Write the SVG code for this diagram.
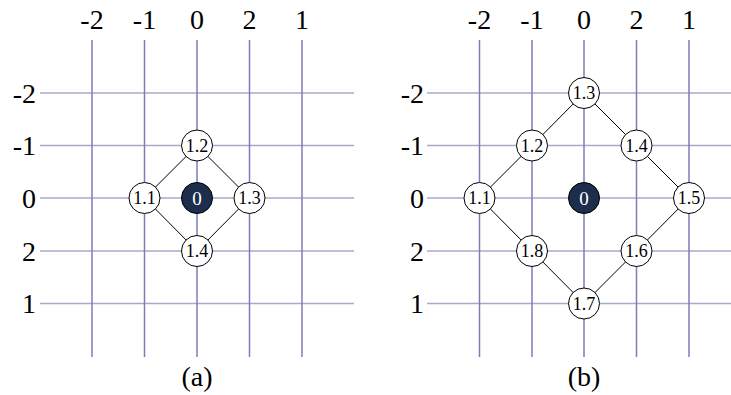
<svg xmlns="http://www.w3.org/2000/svg" width="731" height="395" viewBox="0 0 731 395">
<style>
.h{stroke:#a8a8c8;stroke-width:1.5}
.v{stroke:#7c7cb6;stroke-width:1.5}
.e{stroke:#000;stroke-width:1}
.n circle{fill:#fff;stroke:#000;stroke-width:1}
.d circle{fill:#1c2e4b;stroke:#000;stroke-width:1}
</style>
<rect width="731" height="395" fill="#fff"/>
<g id="grid-a">
<line class="h" x1="40" y1="93" x2="354" y2="93"/>
<line class="h" x1="40" y1="145.5" x2="354" y2="145.5"/>
<line class="h" x1="40" y1="198" x2="354" y2="198"/>
<line class="h" x1="40" y1="251" x2="354" y2="251"/>
<line class="h" x1="40" y1="303.5" x2="354" y2="303.5"/>
<line class="v" x1="92" y1="40" x2="92" y2="357"/>
<line class="v" x1="144.5" y1="40" x2="144.5" y2="357"/>
<line class="v" x1="197" y1="40" x2="197" y2="357"/>
<line class="v" x1="249.5" y1="40" x2="249.5" y2="357"/>
<line class="v" x1="302" y1="40" x2="302" y2="357"/>
</g>
<g id="labels-a" font-family="Liberation Serif, serif" font-size="28" fill="#000">
<text x="92" y="29" text-anchor="middle">-2</text>
<text x="144.5" y="29" text-anchor="middle">-1</text>
<text x="197" y="29" text-anchor="middle">0</text>
<text x="249.5" y="29" text-anchor="middle">2</text>
<text x="302" y="29" text-anchor="middle">1</text>
<text x="36" y="102.5" text-anchor="end">-2</text>
<text x="36" y="155" text-anchor="end">-1</text>
<text x="36" y="207.5" text-anchor="end">0</text>
<text x="36" y="260.5" text-anchor="end">2</text>
<text x="36" y="313" text-anchor="end">1</text>
<text x="197" y="386" text-anchor="middle">(a)</text>
</g>
<g id="grid-b">
<line class="h" x1="427" y1="93" x2="741" y2="93"/>
<line class="h" x1="427" y1="145.5" x2="741" y2="145.5"/>
<line class="h" x1="427" y1="198" x2="741" y2="198"/>
<line class="h" x1="427" y1="251" x2="741" y2="251"/>
<line class="h" x1="427" y1="303.5" x2="741" y2="303.5"/>
<line class="v" x1="479.5" y1="40" x2="479.5" y2="357"/>
<line class="v" x1="532" y1="40" x2="532" y2="357"/>
<line class="v" x1="584" y1="40" x2="584" y2="357"/>
<line class="v" x1="636.5" y1="40" x2="636.5" y2="357"/>
<line class="v" x1="689" y1="40" x2="689" y2="357"/>
</g>
<g id="labels-b" font-family="Liberation Serif, serif" font-size="28" fill="#000">
<text x="479.5" y="29" text-anchor="middle">-2</text>
<text x="532" y="29" text-anchor="middle">-1</text>
<text x="584" y="29" text-anchor="middle">0</text>
<text x="636.5" y="29" text-anchor="middle">2</text>
<text x="689" y="29" text-anchor="middle">1</text>
<text x="424" y="102.5" text-anchor="end">-2</text>
<text x="424" y="155" text-anchor="end">-1</text>
<text x="424" y="207.5" text-anchor="end">0</text>
<text x="424" y="260.5" text-anchor="end">2</text>
<text x="424" y="313" text-anchor="end">1</text>
<text x="584" y="386" text-anchor="middle">(b)</text>
</g>
<g id="connectors">
<line class="e" x1="197" y1="145.5" x2="144.5" y2="198"/>
<line class="e" x1="197" y1="145.5" x2="249.5" y2="198"/>
<line class="e" x1="144.5" y1="198" x2="197" y2="251"/>
<line class="e" x1="249.5" y1="198" x2="197" y2="251"/>
<line class="e" x1="584" y1="93" x2="532" y2="145.5"/>
<line class="e" x1="532" y1="145.5" x2="479.5" y2="198"/>
<line class="e" x1="584" y1="93" x2="636.5" y2="145.5"/>
<line class="e" x1="636.5" y1="145.5" x2="689" y2="198"/>
<line class="e" x1="479.5" y1="198" x2="532" y2="251"/>
<line class="e" x1="532" y1="251" x2="584" y2="303.5"/>
<line class="e" x1="689" y1="198" x2="636.5" y2="251"/>
<line class="e" x1="636.5" y1="251" x2="584" y2="303.5"/>
</g>
<g font-family="Liberation Serif, serif" font-size="18" text-anchor="middle">
<g id="a-1.2" class="n"><circle cx="197" cy="145.5" r="15.5"/><text x="197" y="151.5">1.2</text></g>
<g id="a-1.1" class="n"><circle cx="144.5" cy="198" r="15.5"/><text x="144.5" y="204">1.1</text></g>
<g id="a-0" class="d"><circle cx="197" cy="198" r="15.5"/><text x="197" y="204.5" fill="#fff" font-size="19">0</text></g>
<g id="a-1.3" class="n"><circle cx="249.5" cy="198" r="15.5"/><text x="249.5" y="204">1.3</text></g>
<g id="a-1.4" class="n"><circle cx="197" cy="251" r="15.5"/><text x="197" y="257">1.4</text></g>
<g id="b-1.3" class="n"><circle cx="584" cy="93" r="15.5"/><text x="584" y="99">1.3</text></g>
<g id="b-1.2" class="n"><circle cx="532" cy="145.5" r="15.5"/><text x="532" y="151.5">1.2</text></g>
<g id="b-1.4" class="n"><circle cx="636.5" cy="145.5" r="15.5"/><text x="636.5" y="151.5">1.4</text></g>
<g id="b-1.1" class="n"><circle cx="479.5" cy="198" r="15.5"/><text x="479.5" y="204">1.1</text></g>
<g id="b-0" class="d"><circle cx="584" cy="198" r="15.5"/><text x="584" y="204.5" fill="#fff" font-size="19">0</text></g>
<g id="b-1.5" class="n"><circle cx="689" cy="198" r="15.5"/><text x="689" y="204">1.5</text></g>
<g id="b-1.8" class="n"><circle cx="532" cy="251" r="15.5"/><text x="532" y="257">1.8</text></g>
<g id="b-1.6" class="n"><circle cx="636.5" cy="251" r="15.5"/><text x="636.5" y="257">1.6</text></g>
<g id="b-1.7" class="n"><circle cx="584" cy="303.5" r="15.5"/><text x="584" y="309.5">1.7</text></g>
</g>
</svg>
